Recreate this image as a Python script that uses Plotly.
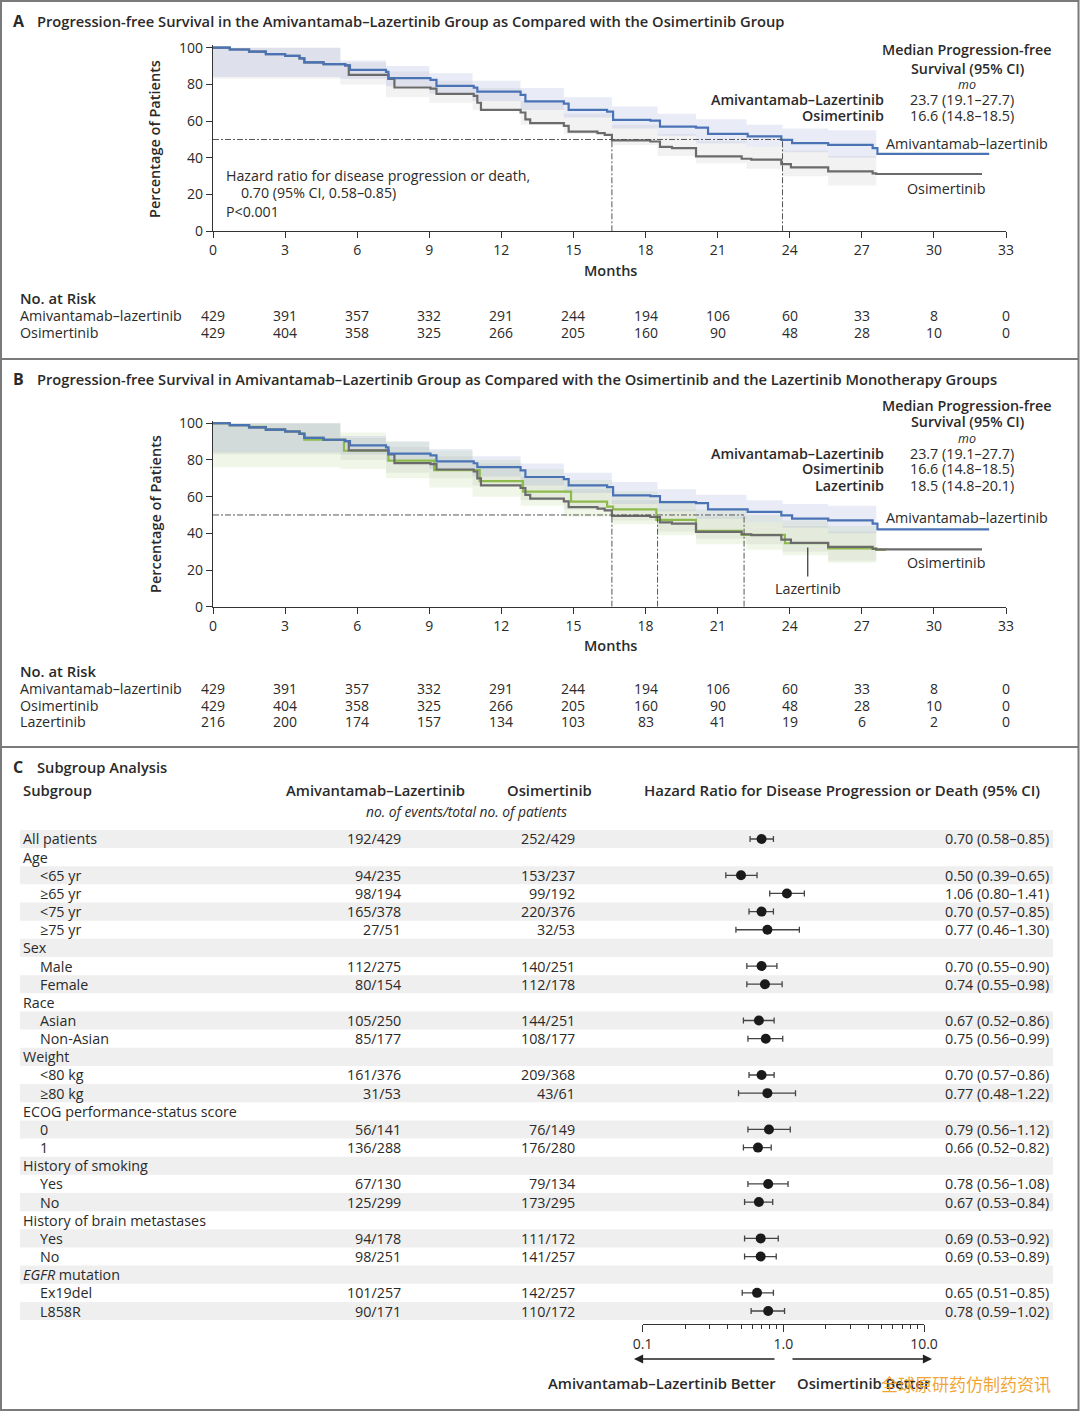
import math
import plotly.graph_objects as go

W, H = 1080, 1411
FONT = "Open Sans"
TXT = "#2a2a2a"


def fx(p):
    return p / W


def fy(p):
    return 1 - p / H


# ---------------- data : Kaplan-Meier ----------------
month_ticks = [0, 3, 6, 9, 12, 15, 18, 21, 24, 27, 30, 33]
risk_ami = [429, 391, 357, 332, 291, 244, 194, 106, 60, 33, 8, 0]
risk_osi = [429, 404, 358, 325, 266, 205, 160, 90, 48, 28, 10, 0]
risk_laz = [216, 200, 174, 157, 134, 103, 83, 41, 19, 6, 2, 0]

ami_t = [0, 0.7, 1.5, 2.2, 3.0, 3.6, 3.8, 4.6, 5.5, 5.7, 7.2, 7.3, 9.05, 9.3, 10.85, 11.0,
         12.8, 13.0, 14.6, 14.8, 16.4, 16.65, 18.2, 18.6, 20.1, 20.6, 22.25, 23.65, 24.1,
         25.6, 27.45, 27.65, 32.3]
ami_s = [100, 99, 97.8, 96.5, 95.5, 94.2, 92, 91, 90.3, 87.9, 86.8, 83.4, 82.5, 79.2, 78.2, 76.1,
         74.3, 70.7, 69.5, 66.1, 65.2, 60.7, 60.3, 57, 56.5, 53, 51.7, 49.8, 48,
         47.1, 45.3, 42.2, 42.2]

osi_t = [0, 0.7, 1.5, 2.2, 3.0, 3.6, 3.8, 4.6, 5.5, 5.65, 7.3, 7.55, 9.05, 9.3, 10.85, 11.0,
         11.15, 12.8, 13.0, 13.2, 14.6, 14.8, 16.0, 16.3, 16.6, 18.2, 18.6, 19.1, 20.1, 22.0,
         22.4, 23.65, 24.05, 25.6, 27.45, 27.6, 32.0]
osi_s = [100, 99, 97.8, 96.5, 95.5, 94.2, 92, 91, 90.3, 85.2, 83, 78.3, 77.7, 74.8, 73.7, 70,
         66.1, 64.7, 61, 58.9, 57.4, 54.3, 53.5, 52.5, 49.5, 48.9, 46, 45.3, 40.8, 39.5,
         39, 36.6, 34.8, 32.6, 31.5, 31.2, 31.2]

laz_t = [0, 0.7, 1.5, 2.2, 3.0, 3.6, 3.8, 5.45, 7.3, 9.2, 11.1, 12.9, 14.9, 16.4, 16.65,
         18.45, 20.1, 22.0, 23.8, 25.6, 27.6, 28.0]
laz_s = [100, 99, 98, 96.5, 95.5, 94.5, 91, 85, 79.6, 74.5, 68.5, 62.7, 57.3, 54.5, 53.1,
         47.3, 41.4, 39.1, 34.6, 31.8, 31.0, 31.0]

# confidence bands (step)
ci_t = [0, 5.3, 7.2, 9.0, 10.8, 12.8, 14.6, 16.6, 18.5, 20.1, 22.2, 23.7, 25.6, 27.6]
ci_ami_hi = [100, 93, 90, 86, 82, 78, 73, 68, 64, 61, 58, 56, 55, 55]
ci_ami_lo = [84, 83, 79, 75, 71, 66, 62, 56, 52, 48, 46, 43, 40, 40]
ci_osi_hi = [100, 92, 87, 82, 78, 71, 64, 58, 53, 49, 46, 44, 41, 41]
ci_osi_lo = [83, 80, 73, 70, 66, 58, 53, 47, 41, 37, 34, 30, 25, 25]
ci_laz_hi = [100, 95, 90, 85, 80, 75, 69, 63, 58, 53, 50, 47, 44, 44]
ci_laz_lo = [76, 75, 70, 65, 60, 55, 49, 45, 39, 34, 31, 28, 24, 24]

medians_A = [16.6, 23.7]
medians_B = [16.6, 18.5, 22.1]

# ---------------- data : subgroup forest ----------------
sub_labels = ["All patients", "Age", "&lt;65 yr", "≥65 yr", "&lt;75 yr", "≥75 yr", "Sex", "Male",
              "Female", "Race", "Asian", "Non-Asian", "Weight", "&lt;80 kg", "≥80 kg",
              "ECOG performance-status score", "0", "1", "History of smoking", "Yes", "No",
              "History of brain metastases", "Yes", "No", "<i>EGFR</i> mutation", "Ex19del",
              "L858R"]
sub_indent = [0, 0, 1, 1, 1, 1, 0, 1, 1, 0, 1, 1, 0, 1, 1, 0, 1, 1, 0, 1, 1, 0, 1, 1, 0, 1, 1]
ami_events = ["192/429", "", "94/235", "98/194", "165/378", "27/51", "", "112/275", "80/154", "",
              "105/250", "85/177", "", "161/376", "31/53", "", "56/141", "136/288", "",
              "67/130", "125/299", "", "94/178", "98/251", "", "101/257", "90/171"]
osi_events = ["252/429", "", "153/237", "99/192", "220/376", "32/53", "", "140/251", "112/178", "",
              "144/251", "108/177", "", "209/368", "43/61", "", "76/149", "176/280", "",
              "79/134", "173/295", "", "111/172", "141/257", "", "142/257", "110/172"]
hr = [0.70, None, 0.50, 1.06, 0.70, 0.77, None, 0.70, 0.74, None, 0.67, 0.75, None, 0.70, 0.77,
      None, 0.79, 0.66, None, 0.78, 0.67, None, 0.69, 0.69, None, 0.65, 0.78]
hr_lo = [0.58, None, 0.39, 0.80, 0.57, 0.46, None, 0.55, 0.55, None, 0.52, 0.56, None, 0.57, 0.48,
         None, 0.56, 0.52, None, 0.56, 0.53, None, 0.53, 0.53, None, 0.51, 0.59]
hr_hi = [0.85, None, 0.65, 1.41, 0.85, 1.30, None, 0.90, 0.98, None, 0.86, 0.99, None, 0.86, 1.22,
         None, 1.12, 0.82, None, 1.08, 0.84, None, 0.92, 0.89, None, 0.85, 1.02]
forest_ticks = [0.1, 1, 10]
forest_ticktext = ["0.1", "1.0", "10.0"]
forest_minor = [0.2, 0.3, 0.4, 0.5, 0.6, 0.7, 0.8, 0.9, 2, 3, 4, 5, 6, 7, 8, 9]

BLUE = "#4a73b5"
GRAY = "#6b6b6b"
GREEN = "#8dba4c"

fig = go.Figure()


def band(t, lo, hi, xa, ya, fill):
    fig.add_trace(go.Scatter(x=t, y=lo, xaxis=xa, yaxis=ya, mode="lines",
                             line=dict(width=0, shape="hv"), hoverinfo="skip", showlegend=False))
    fig.add_trace(go.Scatter(x=t, y=hi, xaxis=xa, yaxis=ya, mode="lines",
                             line=dict(width=0, shape="hv"), fill="tonexty", fillcolor=fill,
                             hoverinfo="skip", showlegend=False))


def curve(t, s, xa, ya, color):
    fig.add_trace(go.Scatter(x=t, y=s, xaxis=xa, yaxis=ya, mode="lines",
                             line=dict(color=color, width=2.2, shape="hv"),
                             hoverinfo="skip", showlegend=False))


BAND_BLUE = "rgba(110,130,200,0.15)"
BAND_GRAY = "rgba(130,130,130,0.10)"
BAND_GREEN = "rgba(140,190,80,0.13)"

# Panel A
band(ci_t, ci_osi_lo, ci_osi_hi, "x", "y", BAND_GRAY)
band(ci_t, ci_ami_lo, ci_ami_hi, "x", "y", BAND_BLUE)
curve(osi_t, osi_s, "x", "y", GRAY)
curve(ami_t, ami_s, "x", "y", BLUE)

# Panel B
band(ci_t, ci_osi_lo, ci_osi_hi, "x2", "y2", BAND_GRAY)
band(ci_t, ci_laz_lo, ci_laz_hi, "x2", "y2", BAND_GREEN)
band(ci_t, ci_ami_lo, ci_ami_hi, "x2", "y2", BAND_BLUE)
curve(laz_t, laz_s, "x2", "y2", GREEN)
curve(osi_t, osi_s, "x2", "y2", GRAY)
curve(ami_t, ami_s, "x2", "y2", BLUE)

shapes = []
DASH = "6px,2px,2px,2px"
for med, xr, yr in [(medians_A, "x", "y"), (medians_B, "x2", "y2")]:
    shapes.append(dict(type="line", xref=xr, yref=yr, x0=0, x1=max(med), y0=50, y1=50,
                       line=dict(color="#555", width=1, dash=DASH)))
    for m in med:
        shapes.append(dict(type="line", xref=xr, yref=yr, x0=m, x1=m, y0=0, y1=50,
                           line=dict(color="#555", width=1, dash=DASH)))

# Lazertinib pointer
shapes.append(dict(type="line", xref="x2", yref="y2", x0=24.75, x1=24.75, y0=32.3, y1=16.5,
                   line=dict(color="#333", width=1.2)))

# forest stripes
for i in range(len(sub_labels)):
    if i % 2 == 0:
        shapes.append(dict(type="rect", xref="paper", yref="y3", x0=fx(20), x1=fx(1053),
                           y0=i - 0.5, y1=i + 0.5, fillcolor="#efefef", line=dict(width=0),
                           layer="below"))
# overall CI band
shapes.append(dict(type="rect", xref="x3", yref="y3", x0=math.log10(hr_lo[0]),
                   x1=math.log10(hr_hi[0]), y0=-0.5, y1=len(sub_labels) - 0.5,
                   fillcolor="rgba(185,185,185,0.5)", line=dict(width=0), layer="below"))
shapes.append(dict(type="line", xref="x3", yref="y3", x0=0, x1=0, y0=-0.5, y1=26.716,
                   line=dict(color="#444", width=1.3, dash="4px,3px")))

# borders
BORDER = "#7a7a7a"
shapes.append(dict(type="rect", xref="paper", yref="paper", x0=fx(1), x1=fx(1078.5),
                   y0=fy(1410), y1=fy(1), line=dict(color=BORDER, width=2)))
for yy in [359, 747]:
    shapes.append(dict(type="line", xref="paper", yref="paper", x0=fx(1), x1=fx(1078.5),
                       y0=fy(yy), y1=fy(yy), line=dict(color=BORDER, width=2)))

# forest points
pts = [i for i, v in enumerate(hr) if v is not None]
fig.add_trace(go.Scatter(
    x=[hr[i] for i in pts], y=pts, xaxis="x3", yaxis="y3", mode="markers",
    marker=dict(color="#1a1a1a", size=10),
    error_x=dict(type="data", symmetric=False,
                 array=[hr_hi[i] - hr[i] for i in pts],
                 arrayminus=[hr[i] - hr_lo[i] for i in pts],
                 color="#444", thickness=1.3, width=3),
    hoverinfo="skip", showlegend=False))

ann = []


def text(x, y, s, size=14, anchor="left", weight=400, color=TXT, italic=False, xref="paper",
         yref="paper", angle=0, family=FONT):
    ann.append(dict(x=fx(x) if xref == "paper" else x, y=fy(y) if yref == "paper" else y,
                    xref=xref, yref=yref, text=s, showarrow=False, xanchor=anchor,
                    yanchor="middle", textangle=angle, borderpad=0,
                    font=dict(family=family, size=size, color=color, weight=weight,
                              style="italic" if italic else "normal")))


SM = 14

# Titles
text(12, 21, "A", 16, weight=700)
text(36, 21, "Progression-free Survival in the Amivantamab–Lazertinib Group as Compared with the Osimertinib Group", 14.7, weight=600)
text(12, 379, "B", 16, weight=700)
text(36, 379, "Progression-free Survival in Amivantamab–Lazertinib Group as Compared with the Osimertinib and the Lazertinib Monotherapy Groups", 14.7, weight=600)
text(12, 767, "C", 16, weight=700)
text(36, 767, "Subgroup Analysis", 14.7, weight=600)

# axis titles
for yc in [139, 514]:
    text(155, yc, "Percentage of Patients", 14.5, anchor="center", weight=600, angle=-90)
text(610, 270, "Months", 14.5, anchor="center", weight=600)
text(610, 646, "Months", 14.5, anchor="center", weight=600)

# median blocks
for (y0, names, vals) in [
    (50, ["Amivantamab–Lazertinib", "Osimertinib"], ["23.7 (19.1–27.7)", "16.6 (14.8–18.5)"]),
    (406, ["Amivantamab–Lazertinib", "Osimertinib", "Lazertinib"],
     ["23.7 (19.1–27.7)", "16.6 (14.8–18.5)", "18.5 (14.8–20.1)"]),
]:
    step = 18 if y0 == 50 else 16
    text(967, y0, "Median Progression-free", 14.3, anchor="center", weight=600)
    text(967, y0 + step, "Survival (95% CI)", 14.3, anchor="center", weight=600)
    text(967, y0 + step + 16, "mo", 12.5, anchor="center", italic=True)
    for k, (nm, vv) in enumerate(zip(names, vals)):
        yy = y0 + step + 31 + 16 * k
        text(885, yy, nm, 14.3, anchor="right", weight=600)
        text(909, yy, vv, 14.3)

# hazard ratio text
text(225, 175, "Hazard ratio for disease progression or death,", 14.2)
text(240, 193, "0.70 (95% CI, 0.58–0.85)", 14.2)
text(225, 211, "P&lt;0.001", 14.2)

# curve labels
text(885, 143, "Amivantamab–lazertinib", 14.3)
text(906, 188, "Osimertinib", 14.3)
text(885, 517, "Amivantamab–lazertinib", 14.3)
text(906, 562, "Osimertinib", 14.3)
text(808, 588, "Lazertinib", 14.3, anchor="center")

# risk tables
text(19, 298, "No. at Risk", 14.8, weight=600)
text(19, 315, "Amivantamab–lazertinib", 14.3)
text(19, 332, "Osimertinib", 14.3)
for m, a, o in zip(month_ticks, risk_ami, risk_osi):
    text(m, 315, str(a), SM, anchor="center", xref="x")
    text(m, 332, str(o), SM, anchor="center", xref="x")

text(19, 671, "No. at Risk", 14.8, weight=600)
text(19, 688, "Amivantamab–lazertinib", 14.3)
text(19, 705, "Osimertinib", 14.3)
text(19, 721, "Lazertinib", 14.3)
for m, a, o, l in zip(month_ticks, risk_ami, risk_osi, risk_laz):
    text(m, 688, str(a), SM, anchor="center", xref="x2")
    text(m, 705, str(o), SM, anchor="center", xref="x2")
    text(m, 721, str(l), SM, anchor="center", xref="x2")

# forest headers
text(22, 790, "Subgroup", 14.8, weight=600)
text(375, 790, "Amivantamab–Lazertinib", 14.8, anchor="center", weight=600)
text(549, 790, "Osimertinib", 14.8, anchor="center", weight=600)
text(466, 812, "no. of events/total no. of patients", 13.8, anchor="center", italic=True)
text(842, 790, "Hazard Ratio for Disease Progression or Death (95% CI)", 15, anchor="center", weight=600)

for i, lab in enumerate(sub_labels):
    text(22 + 17 * sub_indent[i], i, lab, 14.3, yref="y3")
    if ami_events[i]:
        text(402, i, ami_events[i], 14.3, anchor="right", yref="y3")
        text(576, i, osi_events[i], 14.3, anchor="right", yref="y3")
    if hr[i] is not None:
        text(1050, i, f"{hr[i]:.2f} ({hr_lo[i]:.2f}–{hr_hi[i]:.2f})", 14.3, anchor="right",
             yref="y3")

# arrows
ann.append(dict(x=fx(634), y=fy(1359), ax=142, ay=0, xref="paper", yref="paper",
                axref="pixel", ayref="pixel", text="", showarrow=True, arrowhead=2,
                arrowsize=1.3, arrowwidth=1.4, arrowcolor="#222"))
ann.append(dict(x=fx(932), y=fy(1359), ax=-141, ay=0, xref="paper", yref="paper",
                axref="pixel", ayref="pixel", text="", showarrow=True, arrowhead=2,
                arrowsize=1.3, arrowwidth=1.4, arrowcolor="#222"))
text(777, 1383, "Amivantamab–Lazertinib Better", 14.8, anchor="right", weight=600)
text(796, 1383, "Osimertinib Better", 14.8, weight=600)
text(880, 1383, "全球原研药仿制药资讯", 17, color="rgba(240,160,40,0.95)", family="Noto Sans CJK SC")

axis_common = dict(showgrid=False, zeroline=False, showline=True, linecolor="#333", linewidth=1.2,
                   ticks="outside", ticklen=6, tickwidth=1.2, tickcolor="#333", automargin=False,
                   tickfont=dict(family=FONT, size=14, color=TXT), fixedrange=True)

fig.update_layout(
    width=W, height=H, margin=dict(l=0, r=0, t=0, b=0, pad=0, autoexpand=False),
    paper_bgcolor="white", plot_bgcolor="rgba(0,0,0,0)",
    font=dict(family=FONT, color=TXT),
    xaxis=dict(domain=[fx(213), fx(1006)], range=[0, 33], anchor="y", tickvals=month_ticks,
               **axis_common),
    yaxis=dict(domain=[fy(231.3), fy(44.9)], range=[0, 101.5], anchor="x",
               tickvals=[0, 20, 40, 60, 80, 100], **axis_common),
    xaxis2=dict(domain=[fx(213), fx(1006)], range=[0, 33], anchor="y2", tickvals=month_ticks,
                **axis_common),
    yaxis2=dict(domain=[fy(606.7), fy(420.5)], range=[0, 101.5], anchor="x2",
                tickvals=[0, 20, 40, 60, 80, 100], **axis_common),
    xaxis3=dict(domain=[fx(642.7), fx(924)], type="log", range=[-1, 1], anchor="y3",
                tickvals=forest_ticks, ticktext=forest_ticktext,
                minor=dict(tickvals=forest_minor, ticklen=4, tickcolor="#333", ticks="outside"),
                **{**axis_common, "ticklen": 7}),
    yaxis3=dict(domain=[fy(1324), fy(829.9)], range=[26.716, -0.5], anchor="x3", visible=False,
                automargin=False, fixedrange=True),
    shapes=shapes,
    annotations=ann,
)

POST = ("document.documentElement.style.margin='0';document.body.style.margin='0';"
        "document.body.style.padding='0';document.documentElement.style.overflow='hidden';"
        "document.body.style.overflow='hidden';")

fig.write_html("out.html", config={"displayModeBar": False}, post_script=POST)
